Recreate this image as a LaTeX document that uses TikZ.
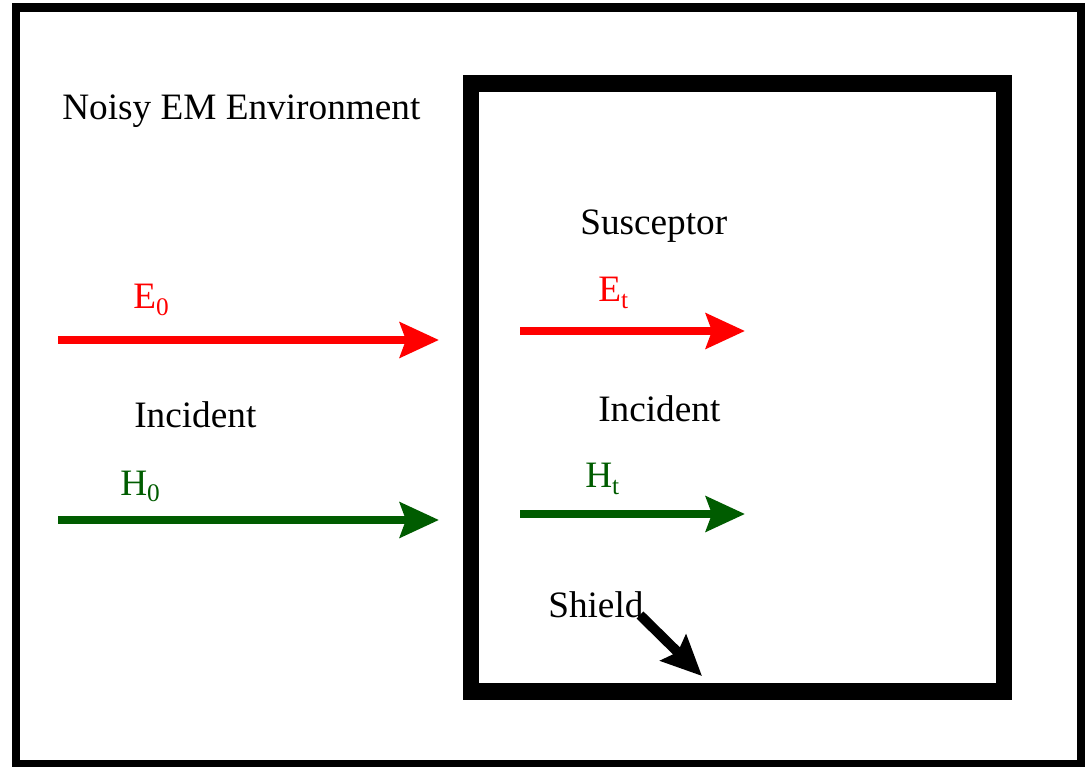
\documentclass[tikz,border=0pt]{standalone}
\usepackage{fontspec}
\setmainfont{Liberation Serif}
\usetikzlibrary{arrows.meta}
\definecolor{hgreen}{RGB}{0,92,0}
\definecolor{ered}{RGB}{255,0,0}
\newcommand{\subtxt}[1]{\raisebox{-4.3pt}{\fontsize{18}{18}\selectfont #1}}
\tikzset{
  lbl/.style={anchor=base west, inner sep=0pt, font=\fontsize{26.5}{30}\selectfont},
  fieldarrow/.style={line width=5.7pt, -{Stealth[length=0.975cm, width=0.875cm, inset=0.15cm]}},
}
\begin{document}
\begin{tikzpicture}[x=0.025cm, y=-0.025cm]
\useasboundingbox (0,0) rectangle (1087,767);
% outer frame
\draw[line width=5.7pt] (16,7.5) rectangle (1081,764);
% shield box
\draw[line width=11.4pt] (471,83.5) rectangle (1004,691.5);
% labels
\node[lbl] (noisy) at (62,120) {Noisy EM Environment};
\node[lbl] (susc) at (580,235) {Susceptor};
\node[lbl] (incL) at (134,428) {Incident};
\node[lbl] (incR) at (598,422) {Incident};
\node[lbl] (shield) at (548,617) {Shield};
\node[lbl, text=ered] (e0) at (133,309) {E\subtxt{0}};
\node[lbl, text=ered] (et) at (598,302) {E\subtxt{t}};
\node[lbl, text=hgreen] (h0) at (120,495) {H\subtxt{0}};
\node[lbl, text=hgreen] (ht) at (585,488) {H\subtxt{t}};
% arrows
\coordinate (e0s) at (58,340); \coordinate (e0e) at (439,340);
\coordinate (ets) at (520,331); \coordinate (ete) at (745,331);
\coordinate (h0s) at (58,520); \coordinate (h0e) at (439,520);
\coordinate (hts) at (520,514); \coordinate (hte) at (745,514);
\coordinate (shs) at (640,615); \coordinate (she) at (702,676);
\draw[fieldarrow, ered] (e0s) -- (e0e);
\draw[fieldarrow, ered] (ets) -- (ete);
\draw[fieldarrow, hgreen] (h0s) -- (h0e);
\draw[fieldarrow, hgreen] (hts) -- (hte);
\draw[line width=7pt, -{Stealth[length=1.0cm, width=0.9cm, inset=0.15cm]}] (shs) -- (she);
\end{tikzpicture}
\end{document}
